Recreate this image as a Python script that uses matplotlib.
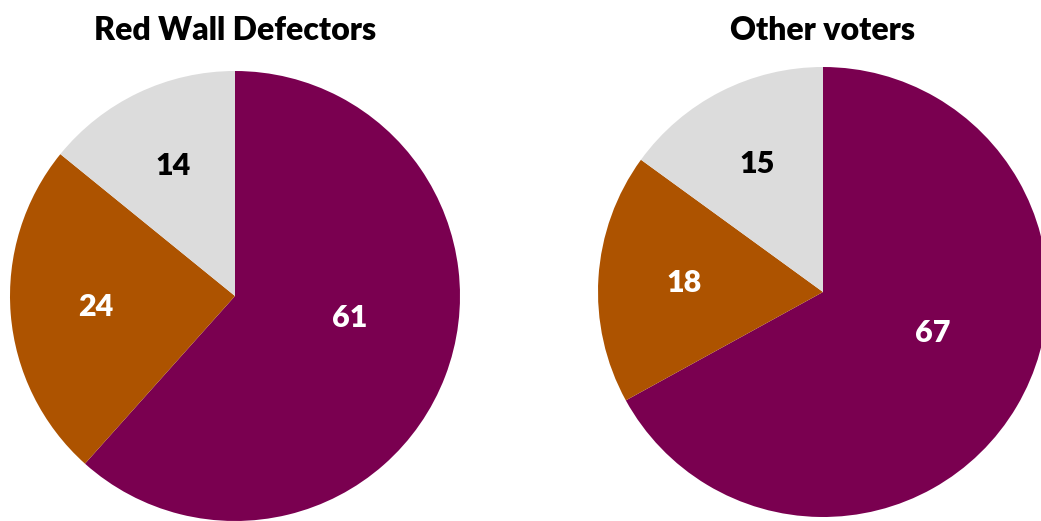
import numpy as np
import matplotlib
matplotlib.use('Agg')
import matplotlib.pyplot as plt

# data
titles = ['Red Wall Defectors', 'Other voters']
red_wall = [61, 24, 14]
other = [67, 18, 15]
colors = ['#7a0050', '#ad5300', '#dcdcdc']
label_colors = ['white', 'white', 'black']

plt.rcParams['font.family'] = ['Lato', 'DejaVu Sans']

W, H = 1041, 521
fig = plt.figure(figsize=(W / 100, H / 100), dpi=100)

# pie centres and radius in pixels
centres = [(235, 296), (823, 292)]
R = 225
# big slice label sits a bit closer in
dists = [0.52, 0.62, 0.64]

for (cx, cy), vals, title in zip(centres, [red_wall, other], titles):
    ax = fig.add_axes([(cx - R) / W, (H - cy - R) / H, 2 * R / W, 2 * R / H])
    wedges, texts = ax.pie(vals, colors=colors, startangle=90, counterclock=False,
                           labels=[str(v) for v in vals], labeldistance=0.6,
                           wedgeprops=dict(linewidth=0))
    for i, (w, t, c, d) in enumerate(zip(wedges, texts, label_colors, dists)):
        mid = np.deg2rad((w.theta1 + w.theta2) / 2)
        if i == 0:
            mid += np.deg2rad(10)
        t.set_position((d * np.cos(mid), d * np.sin(mid)))
        t.set_color(c)
        t.set_fontsize(22)
        t.set_fontweight('heavy')
        t.set_ha('center')
        t.set_va('center')
    ax.set_xlim(-1, 1)
    ax.set_ylim(-1, 1)
    ax.set_aspect('equal')
    ax.axis('off')
    fig.text(cx / W, 1 - 30 / H, title, ha='center', va='center',
             fontsize=23, fontweight='heavy')

fig.savefig('out.png', dpi=100)
